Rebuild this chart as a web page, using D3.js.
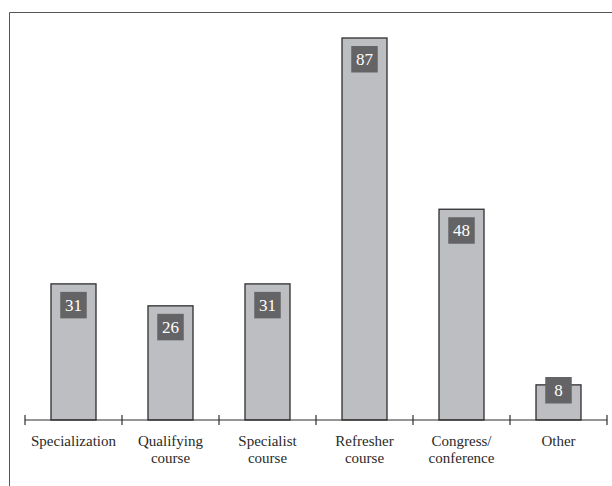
<!DOCTYPE html>
<html>
<head>
<script src="https://cdn.jsdelivr.net/npm/d3@7"></script>
</head>
<body>
<script>
// Training activity counts by type
const categories = ["Specialization", "Qualifying course", "Specialist course", "Refresher course", "Congress/ conference", "Other"];
const labelLines = [["Specialization"], ["Qualifying", "course"], ["Specialist", "course"], ["Refresher", "course"], ["Congress/", "conference"], ["Other"]];
const values = [31, 26, 31, 87, 48, 8];

const W = 612, H = 486;
const FONT = '"Liberation Serif"';
d3.select("body").style("margin", "0px");
const svg = d3.select("body").append("svg").attr("width", W).attr("height", H)
  .style("display", "block");

// Outer frame: top and left edges visible
svg.append("path")
  .attr("d", `M9.5,${H} L9.5,12.5 L${W},12.5`)
  .attr("fill", "none").attr("stroke", "#555").attr("stroke-width", 1);

const axisY = 420;
const x = d3.scaleBand().domain(categories).range([25, 607]).paddingInner(0).paddingOuter(0);
const y = d3.scaleLinear().domain([0, 87]).range([axisY, 38]);
const cx = i => x(categories[i]) + x.bandwidth() / 2;

const barW = 45;
const g = svg.append("g");

// Bars
g.selectAll("rect.bar").data(values).join("rect")
  .attr("class", "bar")
  .attr("x", (d, i) => cx(i) - barW / 2)
  .attr("y", d => y(d))
  .attr("width", barW)
  .attr("height", d => axisY - y(d))
  .attr("fill", "#bdbec2")
  .attr("stroke", "#2e2e2e")
  .attr("stroke-width", 1.3);

// Axis line with ticks crossing it at band edges
g.append("line").attr("x1", 25).attr("x2", 607).attr("y1", axisY).attr("y2", axisY)
  .attr("stroke", "#2e2e2e").attr("stroke-width", 1.2);
const edges = categories.map(c => x(c)).concat([x.range()[1]]);
g.selectAll("line.tick").data(edges).join("line")
  .attr("class", "tick")
  .attr("x1", d => d).attr("x2", d => d)
  .attr("y1", axisY - 5).attr("y2", axisY + 5)
  .attr("stroke", "#2e2e2e").attr("stroke-width", 1.2);

// Centre a text element on a given x using its measured width
function centreAt(sel, xf) {
  sel.each(function(d, i) {
    const w = this.getComputedTextLength();
    d3.select(this).attr("x", xf(d, i) - w / 2);
  });
}

// Value boxes
const box = 26.5;
const boxTop = d => Math.min(y(d) + 8, axisY - 43);
g.selectAll("rect.valbox").data(values).join("rect")
  .attr("class", "valbox")
  .attr("x", (d, i) => cx(i) - box / 2)
  .attr("y", d => boxTop(d))
  .attr("width", box).attr("height", box)
  .attr("fill", "#646466");
const valText = g.selectAll("text.val").data(values).join("text")
  .attr("class", "val")
  .attr("y", d => boxTop(d) + 19)
  .attr("fill", "#fff")
  .style("font-family", FONT, "important")
  .style("font-size", "17px", "important")
  .text(d => d);
centreAt(valText, (d, i) => cx(i));

// Category labels, one text element per line
const labelRows = labelLines.flatMap((lines, i) => lines.map((t, k) => ({ t, i, k })));
const catText = g.selectAll("text.cat").data(labelRows).join("text")
  .attr("class", "cat")
  .attr("fill", "#2a2a2a")
  .attr("y", d => 446 + d.k * 17)
  .style("font-family", FONT, "important")
  .style("font-size", "15px", "important")
  .text(d => d.t);
centreAt(catText, d => cx(d.i));
</script>
</body>
</html>
